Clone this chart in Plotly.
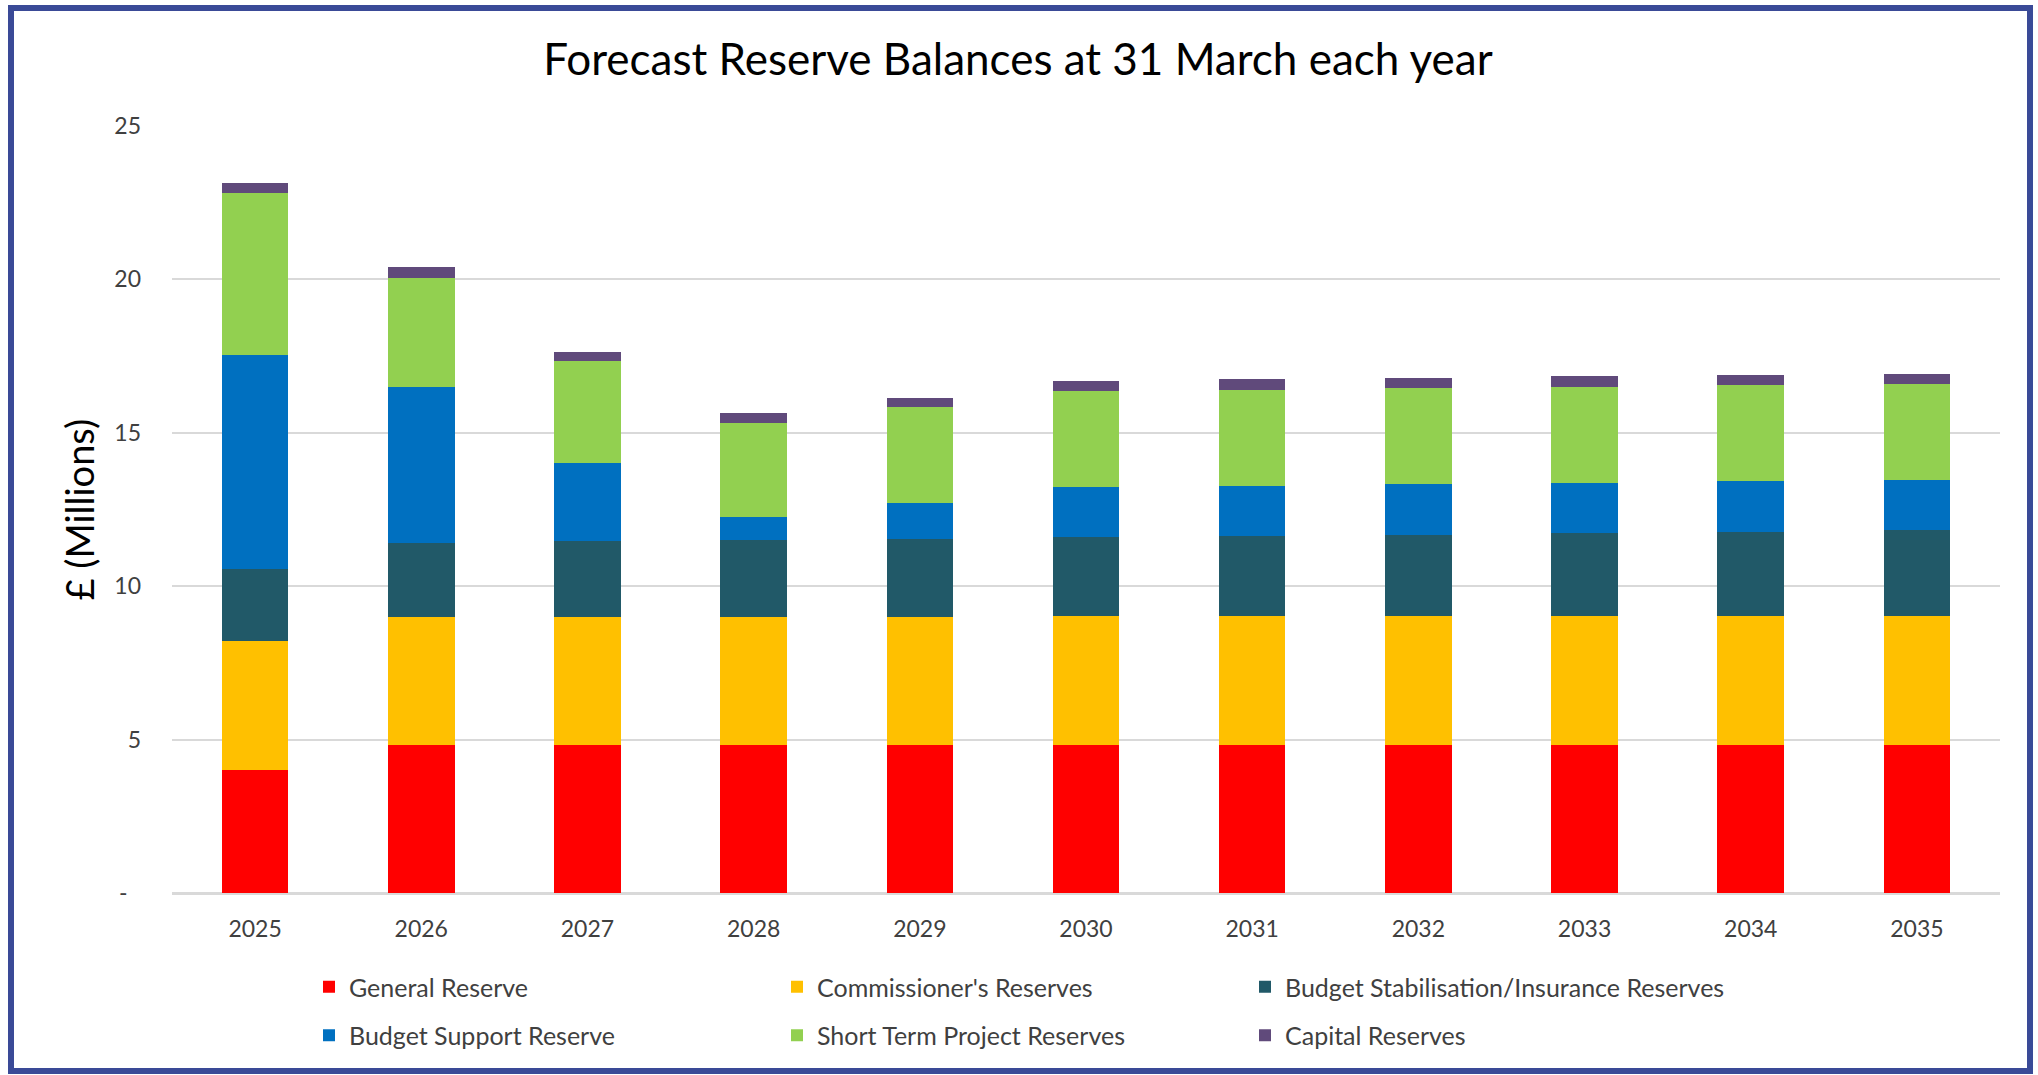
import plotly.graph_objects as go

years = ["2025", "2026", "2027", "2028", "2029", "2030", "2031", "2032", "2033", "2034", "2035"]

general_reserve = [4.01, 4.82, 4.82, 4.82, 4.82, 4.82, 4.82, 4.82, 4.82, 4.82, 4.82]
commissioners_reserves = [4.21, 4.19, 4.19, 4.19, 4.19, 4.20, 4.20, 4.20, 4.20, 4.20, 4.20]
budget_stabilisation = [2.34, 2.39, 2.45, 2.49, 2.53, 2.58, 2.62, 2.66, 2.72, 2.76, 2.82]
budget_support = [6.97, 5.10, 2.56, 0.75, 1.17, 1.64, 1.64, 1.65, 1.63, 1.64, 1.62]
short_term_project = [5.28, 3.55, 3.32, 3.08, 3.13, 3.13, 3.13, 3.13, 3.13, 3.13, 3.14]
capital_reserves = [0.33, 0.34, 0.29, 0.33, 0.29, 0.32, 0.34, 0.32, 0.34, 0.34, 0.32]

series_names = ["General Reserve", "Commissioner's Reserves", "Budget Stabilisation/Insurance Reserves",
                "Budget Support Reserve", "Short Term Project Reserves", "Capital Reserves"]
series_values = [general_reserve, commissioners_reserves, budget_stabilisation,
                 budget_support, short_term_project, capital_reserves]
series_colors = ["#FF0000", "#FFC000", "#215968", "#0070C0", "#92D050", "#604A7B"]

y_tick_vals = [0, 5, 10, 15, 20, 25]
y_tick_text = ["-\u2007", "5", "10", "15", "20", "25"]

FONT = "Lato"
W, H = 2038, 1075
L, R, T, B = 172, 38, 126, 182
pw, ph = W - L - R, H - T - B

legend_ids = ["legend", "legend2", "legend3"]

fig = go.Figure()
for i, (name, vals, col) in enumerate(zip(series_names, series_values, series_colors)):
    fig.add_trace(go.Bar(
        x=years, y=vals, name=name,
        marker=dict(color=col, line=dict(width=0)),
        legend=legend_ids[i % 3],
        legendgroup=f"g{i}",
    ))

def px_to_paper_x(px):
    return (px - L) / pw

def px_to_paper_y(py):
    return (H - B - py) / ph

legend_common = dict(
    orientation="v",
    traceorder="grouped",
    tracegroupgap=13,
    xanchor="left", yanchor="middle",
    y=px_to_paper_y(1011),
    font=dict(family=FONT, size=25, color="#404040"),
    bgcolor="rgba(0,0,0,0)",
    itemclick=False, itemdoubleclick=False,
)

fig.update_layout(
    width=W, height=H,
    margin=dict(l=L, r=R, t=T, b=B),
    paper_bgcolor="white", plot_bgcolor="white",
    barmode="stack", bargap=0.6,
    font=dict(family=FONT),
    title=dict(
        text="Forecast Reserve Balances at 31 March each year",
        xref="container", x=1018 / W, xanchor="center",
        yref="container", y=1 - 60 / H, yanchor="middle",
        font=dict(family=FONT, size=44, color="#000000"),
    ),
    xaxis=dict(
        type="category", showgrid=False, showline=False, zeroline=False,
        ticks="", ticklabelstandoff=20,
        tickfont=dict(family=FONT, size=23, color="#404040"),
    ),
    yaxis=dict(
        range=[0, 25], tickvals=y_tick_vals, ticktext=y_tick_text,
        showgrid=True, gridcolor="#D9D9D9", gridwidth=2,
        zeroline=True, zerolinecolor="#D9D9D9", zerolinewidth=2.5,
        showline=False, ticks="", ticklabelstandoff=30,
        tickfont=dict(family=FONT, size=23, color="#404040"),
    ),
    legend=dict(legend_common, x=px_to_paper_x(309)),
    legend2=dict(legend_common, x=px_to_paper_x(777)),
    legend3=dict(legend_common, x=px_to_paper_x(1245)),
    annotations=[dict(
        text="£ (Millions)", textangle=-90,
        xref="paper", yref="paper",
        x=px_to_paper_x(78), y=0.5, xanchor="center", yanchor="middle",
        showarrow=False, font=dict(family=FONT, size=38, color="#000000"),
    )],
    shapes=[dict(
        type="rect", xref="paper", yref="paper",
        x0=px_to_paper_x(11), x1=px_to_paper_x(2030),
        y0=px_to_paper_y(1071), y1=px_to_paper_y(8),
        line=dict(color="#3A4A97", width=6), fillcolor="rgba(0,0,0,0)",
        layer="above",
    )],
)

fig.write_html("out.html")
